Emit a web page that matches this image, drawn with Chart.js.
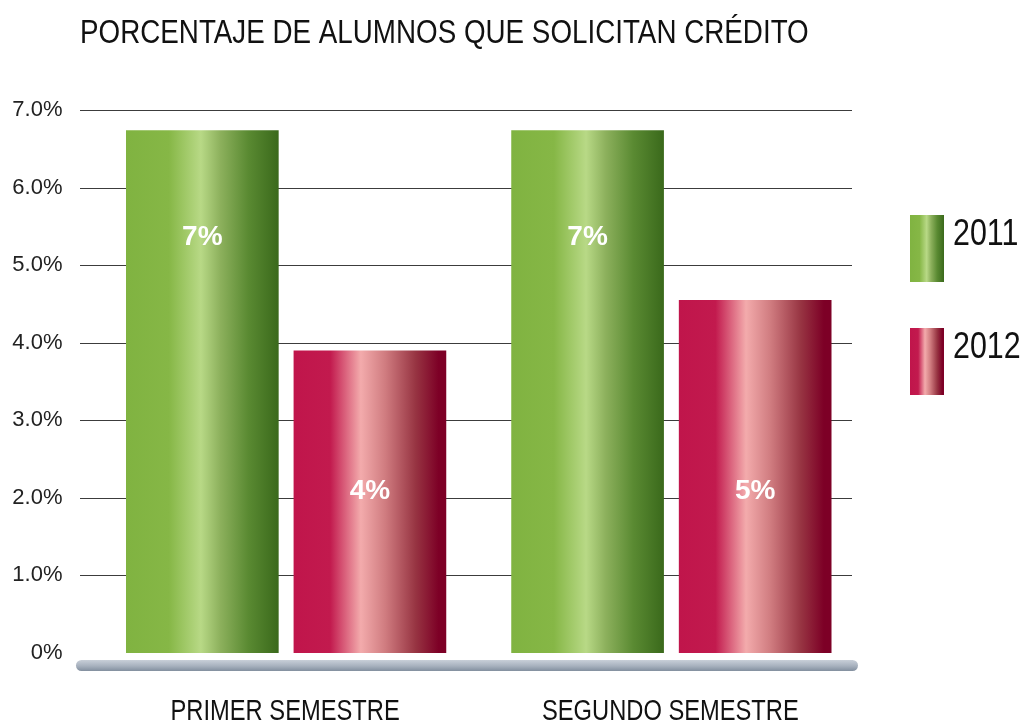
<!DOCTYPE html>
<html>
<head>
<meta charset="utf-8">
<script src="https://cdn.jsdelivr.net/npm/chart.js@4/dist/chart.umd.min.js"></script>
<style>
  html, body { margin: 0; padding: 0; background: #fff; }
  #wrap { width: 1035px; height: 725px; }
</style>
</head>
<body>
<div id="wrap"><canvas id="myChart" width="1035" height="725"></canvas></div>
<script>
var categories = ['PRIMER SEMESTRE', 'SEGUNDO SEMESTRE'];
var seriesNames = ['2011', '2012'];
var values2011 = [6.74, 6.74];
var values2012 = [3.9, 4.55];
var barLabels2011 = ['7%', '7%'];
var barLabels2012 = ['4%', '5%'];
var yMax = 7;

var sans = '"Liberation Sans", Arial, sans-serif';
var CAT_PCT = 0.87, BAR_PCT = 0.911;

var greenStops = [[0, '#80b341'], [0.28, '#86b746'], [0.49, '#b8d986'], [0.62, '#8cb05c'], [0.8, '#5a8a32'], [1, '#3a691b']];
var redStops = [[0, '#c0154b'], [0.24, '#c21a4e'], [0.44, '#f3abac'], [0.6, '#d07c80'], [0.8, '#973442'], [0.95, '#7d0026'], [1, '#7d0026']];

function makeGradient(ctx, x0, x1, stops) {
  var g = ctx.createLinearGradient(x0, 0, x1, 0);
  stops.forEach(function(s) { g.addColorStop(s[0], s[1]); });
  return g;
}

function barFill(stops, flat) {
  return function(c) {
    var chart = c.chart;
    if (!chart.chartArea || !chart.scales.x) return flat;
    var xs = chart.scales.x;
    var catW = xs.width / categories.length;
    var slot = catW * CAT_PCT / 2;
    var center = xs.getPixelForValue(c.dataIndex) + (c.datasetIndex - 0.5) * slot;
    var half = slot * BAR_PCT / 2;
    return makeGradient(chart.ctx, center - half, center + half, stops);
  };
}

// condensed text: no narrow font installed, so squeeze horizontally
function narrowText(ctx, text, x, y, sx, align) {
  ctx.save();
  ctx.translate(x, y);
  ctx.scale(sx, 1);
  ctx.textAlign = align;
  ctx.fillText(text, 0, 0);
  ctx.restore();
}

var decor = {
  id: 'decor',
  beforeDatasetsDraw: function(chart) {
    var ctx = chart.ctx, ys = chart.scales.y;
    ctx.save();
    ctx.strokeStyle = '#3c3c3c';
    ctx.lineWidth = 1;
    for (var v = 1; v <= yMax; v++) {
      var y = Math.round(ys.getPixelForValue(v)) + 0.5;
      ctx.beginPath();
      ctx.moveTo(80, y);
      ctx.lineTo(852, y);
      ctx.stroke();
    }
    ctx.restore();
  },
  afterDatasetsDraw: function(chart) {
    var ctx = chart.ctx, ys = chart.scales.y, xs = chart.scales.x;
    ctx.save();
    // base bar
    var bg = ctx.createLinearGradient(0, 660, 0, 672);
    bg.addColorStop(0, '#c8cfd8');
    bg.addColorStop(0.5, '#a7b1be');
    bg.addColorStop(1, '#7b8898');
    ctx.fillStyle = bg;
    ctx.beginPath();
    ctx.roundRect(76, 660, 782, 11, 5.5);
    ctx.fill();

    // values in bars
    ctx.fillStyle = '#ffffff';
    ctx.font = 'bold 28px ' + sans;
    ctx.textAlign = 'center';
    ctx.textBaseline = 'middle';
    var sets = [[barLabels2011, 5.36], [barLabels2012, 2.08]];
    sets.forEach(function(s, di) {
      var meta = chart.getDatasetMeta(di);
      meta.data.forEach(function(el, i) {
        ctx.fillText(s[0][i], el.x, ys.getPixelForValue(s[1]));
      });
    });

    ctx.textBaseline = 'alphabetic';
    ctx.fillStyle = '#111';

    // title
    ctx.font = '33px ' + sans;
    narrowText(ctx, 'PORCENTAJE DE ALUMNOS QUE SOLICITAN CRÉDITO', 80, 43, 0.842, 'left');

    // category labels
    ctx.font = '30px ' + sans;
    categories.forEach(function(c, i) {
      narrowText(ctx, c, xs.getPixelForValue(i) - 1, 720, 0.79, 'center');
    });

    // legend
    var boxes = [[215, greenStops], [328, redStops]];
    ctx.font = '36px ' + sans;
    boxes.forEach(function(b, i) {
      ctx.fillStyle = makeGradient(ctx, 910, 944, b[1]);
      ctx.fillRect(910, b[0], 34, 67);
      ctx.fillStyle = '#111';
      narrowText(ctx, seriesNames[i], 953, b[0] + 30, 0.845, 'left');
    });
    ctx.restore();
  }
};

var chart = new Chart(document.getElementById('myChart').getContext('2d'), {
  type: 'bar',
  data: {
    labels: categories,
    datasets: [{
      label: seriesNames[0],
      data: values2011,
      backgroundColor: barFill(greenStops, '#80b341'),
      categoryPercentage: CAT_PCT,
      barPercentage: BAR_PCT
    }, {
      label: seriesNames[1],
      data: values2012,
      backgroundColor: barFill(redStops, '#c0154b'),
      categoryPercentage: CAT_PCT,
      barPercentage: BAR_PCT
    }]
  },
  options: {
    responsive: false,
    animation: false,
    layout: { padding: { left: 10, right: 171, top: 110, bottom: 0 } },
    plugins: {
      legend: { display: false },
      tooltip: { enabled: false }
    },
    scales: {
      x: {
        grid: { display: false },
        border: { display: false },
        ticks: { display: false },
        afterFit: function(s) { s.height = 72; }
      },
      y: {
        min: 0,
        max: yMax,
        grid: { display: false, drawTicks: false },
        border: { display: false },
        ticks: {
          stepSize: 1,
          color: '#222',
          font: { family: sans, size: 22 },
          padding: 31,
          callback: function(v) { return v === 0 ? '0%' : v.toFixed(1) + '%'; }
        },
        afterFit: function(s) { s.width = 83.5; }
      }
    }
  },
  plugins: [decor]
});
</script>
</body>
</html>
